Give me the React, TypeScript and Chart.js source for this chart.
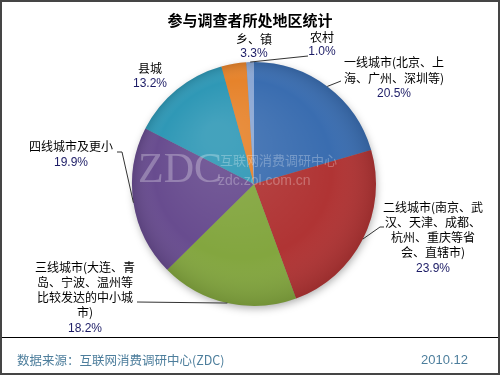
import React, { useEffect, useRef } from "react";
import { Chart, registerables } from "chart.js";

Chart.register(...registerables);

const categories = [
  "一线城市(北京、上海、广州、深圳等)",
  "二线城市(南京、武汉、天津、成都、杭州、重庆等省会、直辖市)",
  "三线城市(大连、青岛、宁波、温州等比较发达的中小城市)",
  "四线城市及更小",
  "县城",
  "乡、镇",
  "农村",
];
const values = [20.5, 23.9, 18.2, 19.9, 13.2, 3.3, 1.0];
const percentLabels = ["20.5%", "23.9%", "18.2%", "19.9%", "13.2%", "3.3%", "1.0%"];
const nameLines = [
  ["一线城市(北京、上", "海、广州、深圳等)"],
  ["二线城市(南京、武", "汉、天津、成都、", "杭州、重庆等省", "会、直辖市)"],
  ["三线城市(大连、青", "岛、宁波、温州等", "比较发达的中小城", "市)"],
  ["四线城市及更小"],
  ["县城"],
  ["乡、镇"],
  ["农村"],
];
const colors = ["#3a6db0", "#b03434", "#83a63f", "#684c8f", "#2f98b6", "#e6832b", "#8ca8d4"];

const titleText = "参与调查者所处地区统计";
const sourceText = "数据来源：互联网消费调研中心(ZDC)";
const dateText = "2010.12";

// label layout (text block centre x, first-line y, line step, leader bend points)
const labelLayout = [
  { x: 394, y: 62, step: 16, leader: [[341, 81]] },
  { x: 433, y: 207, step: 15.3, leader: [[380, 227], [384, 227]] },
  { x: 85, y: 267, step: 15.3, leader: [[137, 302]] },
  { x: 71, y: 146, step: 16.5, leader: [[122, 152], [117, 152]] },
  { x: 150, y: 68, step: 16, leader: [] },
  { x: 254, y: 39, step: 15, leader: [] },
  { x: 322, y: 37, step: 15, leader: [[308, 56]] },
];

const CJK = '"Noto Sans CJK SC", "Noto Sans", sans-serif';

const decorPlugin = {
  id: "decor",
  beforeDraw(chart: any) {
    const ctx = chart.ctx;
    ctx.save();
    ctx.fillStyle = "#ffffff";
    ctx.fillRect(0, 0, chart.width, chart.height);
    ctx.restore();
  },
  beforeDatasetsDraw(chart: any) {
    const arc = chart.getDatasetMeta(0).data[0];
    if (!arc) return;
    const { x, y, outerRadius } = arc.getProps(["x", "y", "outerRadius"], true);
    const ctx = chart.ctx;
    ctx.save();
    ctx.shadowColor = "rgba(0,0,0,0.35)";
    ctx.shadowBlur = 8;
    ctx.shadowOffsetX = 1;
    ctx.shadowOffsetY = 3;
    ctx.fillStyle = "#888";
    ctx.beginPath();
    ctx.arc(x, y, outerRadius - 1, 0, Math.PI * 2);
    ctx.fill();
    ctx.restore();
  },
  afterDatasetsDraw(chart: any) {
    const ctx = chart.ctx;
    const meta = chart.getDatasetMeta(0);
    const first = meta.data[0];
    const { x: cx, y: cy, outerRadius: R } = first.getProps(["x", "y", "outerRadius"], true);

    // radial shading
    ctx.save();
    const g = ctx.createRadialGradient(cx - R * 0.3, cy - R * 0.4, R * 0.1, cx, cy, R);
    g.addColorStop(0, "rgba(255,255,255,0.10)");
    g.addColorStop(0.7, "rgba(255,255,255,0)");
    g.addColorStop(1, "rgba(0,0,0,0.12)");
    ctx.fillStyle = g;
    ctx.beginPath();
    ctx.arc(cx, cy, R, 0, Math.PI * 2);
    ctx.fill();
    ctx.restore();

    // watermark
    ctx.save();
    ctx.fillStyle = "rgba(255,255,255,0.28)";
    ctx.textBaseline = "middle";
    ctx.textAlign = "left";
    ctx.font = '42px "Liberation Serif", "DejaVu Serif", serif';
    ctx.fillText("ZDC", cx - 116, cy - 13);
    ctx.font = "13px " + CJK;
    ctx.fillText("互联网消费调研中心", cx - 34, cy - 24);
    ctx.font = '14px "Liberation Sans", Arial, sans-serif';
    ctx.fillText("zdc.zol.com.cn", cx - 36, cy - 3);
    ctx.restore();

    // leaders and labels
    ctx.save();
    meta.data.forEach((el: any, i: number) => {
      const p = el.getProps(["x", "y", "startAngle", "endAngle", "outerRadius"], true);
      const mid = (p.startAngle + p.endAngle) / 2;
      const ax = p.x + Math.cos(mid) * p.outerRadius;
      const ay = p.y + Math.sin(mid) * p.outerRadius;
      const lay = labelLayout[i];
      if (lay.leader.length) {
        ctx.strokeStyle = "#333";
        ctx.lineWidth = 1;
        ctx.beginPath();
        ctx.moveTo(ax, ay);
        lay.leader.forEach((pt: number[]) => ctx.lineTo(pt[0], pt[1]));
        ctx.stroke();
      }
      ctx.textAlign = "center";
      ctx.textBaseline = "middle";
      ctx.font = "12px " + CJK;
      const lines = nameLines[i];
      lines.forEach((t, k) => {
        ctx.fillStyle = "#000";
        ctx.fillText(t, lay.x, lay.y + k * lay.step);
      });
      ctx.fillStyle = "#1c1c66";
      ctx.font = '12px "Liberation Sans", Arial, sans-serif';
      ctx.fillText(percentLabels[i], lay.x, lay.y + lines.length * lay.step);
    });
    ctx.restore();
  },
  afterDraw(chart: any) {
    const ctx = chart.ctx;
    const W = chart.width;
    const H = chart.height;
    ctx.save();
    // title
    ctx.fillStyle = "#000";
    ctx.textAlign = "center";
    ctx.textBaseline = "middle";
    ctx.font = "bold 15px " + CJK;
    ctx.fillText(titleText, 250, 20);
    // separator
    ctx.strokeStyle = "#000";
    ctx.lineWidth = 1;
    ctx.beginPath();
    ctx.moveTo(2, 337.5);
    ctx.lineTo(W - 2, 337.5);
    ctx.stroke();
    // footer
    ctx.fillStyle = "#4d7e9c";
    ctx.font = "12.5px " + CJK;
    ctx.textAlign = "left";
    ctx.fillText(sourceText, 17, 360);
    ctx.textAlign = "right";
    ctx.font = '13px "Liberation Sans", Arial, sans-serif';
    ctx.fillText(dateText, 468, 360);
    // outer border
    ctx.strokeStyle = "#454545";
    ctx.lineWidth = 2;
    ctx.strokeRect(1, 1, W - 2, H - 2);
    ctx.restore();
  },
};

export default function App() {
  const ref = useRef<HTMLCanvasElement | null>(null);
  useEffect(() => {
    document.body.style.margin = "0";
    const chart = new Chart(ref.current as HTMLCanvasElement, {
      type: "pie",
      data: {
        labels: categories,
        datasets: [
          {
            data: values,
            backgroundColor: colors,
            borderWidth: 0,
            hoverOffset: 0,
          },
        ],
      },
      options: {
        responsive: false,
        animation: false,
        layout: { padding: { left: 132, right: 124, top: 62, bottom: 69 } },
        plugins: {
          legend: { display: false },
          tooltip: { enabled: false },
          title: { display: false },
        },
      },
      plugins: [decorPlugin],
    });
    return () => chart.destroy();
  }, []);
  return (
    <div style={{ position: "absolute", left: 0, top: 0, width: 500, height: 375 }}>
      <canvas ref={ref} width={500} height={375} style={{ width: 500, height: 375 }} />
    </div>
  );
}
